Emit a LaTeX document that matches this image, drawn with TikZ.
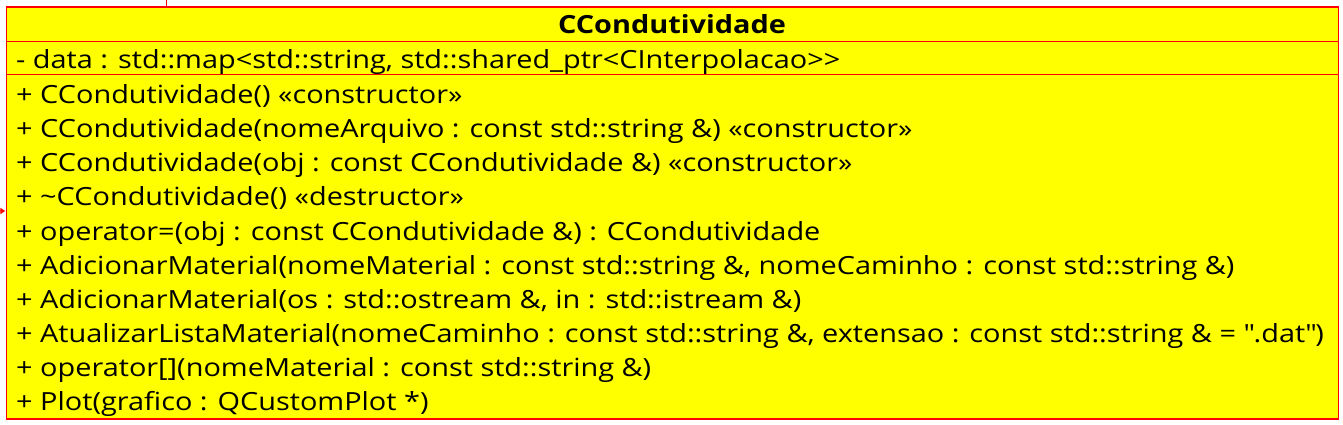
\documentclass[tikz,border=0pt]{standalone}
\usepackage{fontspec}
\setmainfont[FakeStretch=1.155]{Open Sans}
\usetikzlibrary{positioning,arrows.meta}
\definecolor{umlyellow}{RGB}{255,255,0}
\definecolor{umlred}{RGB}{255,0,0}

\begin{document}
\begin{tikzpicture}[x=1pt,y=1pt,
  classbox/.style={draw=umlred,fill=umlyellow,line width=1.3pt,inner sep=0pt},
  member/.style={anchor=base west,inner sep=0pt,font=\fontsize{25}{28}\selectfont},
  classname/.style={anchor=base,inner sep=0pt,font=\fontsize{25}{28}\selectfont\bfseries},
  link/.style={draw=umlred,line width=1pt}]

\useasboundingbox (0,0) rectangle (1343,425);

%class box
\node[classbox,anchor=north west,minimum width=1332.5pt,minimum height=412pt] (cls) at (5.5,418.5) {};
\coordinate (sepA) at (5.5,383.5);
\coordinate (sepB) at (5.5,350);
\draw[umlred,line width=1pt] (sepA) -- (sepA -| cls.east);
\draw[umlred,line width=1pt] (sepB) -- (sepB -| cls.east);

%name and attribute
\node[classname] (title) at (672,391.7) {CCondutividade};
\node[member] (attr) at (16,356.7) {- data : std::map<std::string, std::shared\_ptr<CInterpolacao>{}>};

%operations
\foreach \txt [count=\i] in {
  {+ CCondutividade() «constructor»},
  {+ CCondutividade(nomeArquivo : const std::string \&) «constructor»},
  {+ CCondutividade(obj : const CCondutividade \&) «constructor»},
  {+ \textasciitilde CCondutividade() «destructor»},
  {+ operator=(obj : const CCondutividade \&) : CCondutividade},
  {+ AdicionarMaterial(nomeMaterial : const std::string \&, nomeCaminho : const std::string \&)},
  {+ AdicionarMaterial(os : std::ostream \&, in : std::istream \&)},
  {+ AtualizarListaMaterial(nomeCaminho : const std::string \&, extensao : const std::string \& = \textquotedbl.dat\textquotedbl)},
  {+ operator[](nomeMaterial : const std::string \&)},
  {+ Plot(grafico : QCustomPlot *)}}
  \node[member] (op\i) at (16,{321.5-(\i-1)*34.15}) {\txt};

%connector ends
\coordinate (topEnd) at (166.3,425);
\coordinate (leftEnd) at (0,214);
\draw[link] (topEnd) -- (topEnd |- cls.north);
\draw[link,-{Latex[length=5pt,width=7pt]}] (leftEnd) -- (leftEnd -| cls.west);

\end{tikzpicture}
\end{document}
